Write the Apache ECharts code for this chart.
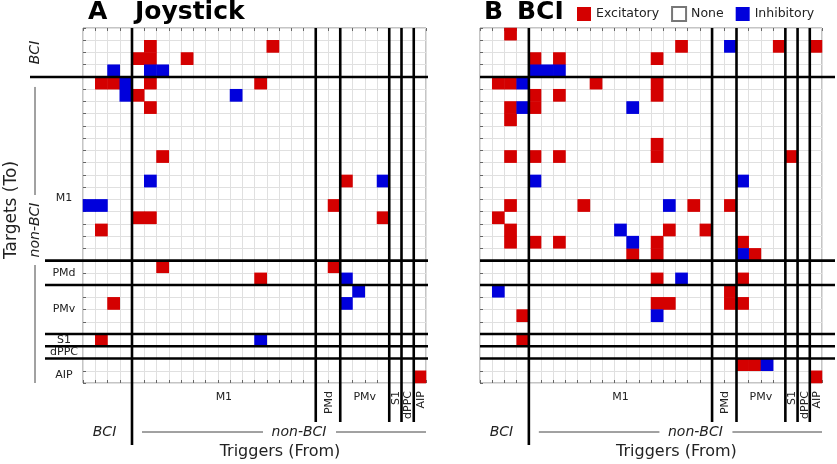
<!DOCTYPE html>
<html><head><meta charset="utf-8">
<script src="https://cdn.jsdelivr.net/npm/echarts@6/dist/echarts.min.js"></script>
<style>html,body{margin:0;padding:0;background:#fff}#c{width:837px;height:464px}</style>
</head><body><div id="c"></div>
<script>
// ---- data ----
const regionNames = ['BCI','M1','PMd','PMv','S1','dPPC','AIP'];
const triggerCounts = [4,15,2,4,1,1,1];
const targetCounts  = [4,15,2,4,1,1,2];
const legendNames = ['Excitatory','None','Inhibitory'];
const panelLetters = ['A','B'];
const panelTitles = ['Joystick','BCI'];
// [triggerColumn, targetRow]
const joystickExcitatory = [[5,1],[15,1],[4,2],[5,2],[8,2],[1,4],[2,4],[5,4],[14,4],[4,5],[5,6],[6,10],[21,12],[20,14],[4,15],[5,15],[24,15],[1,16],[6,19],[20,19],[14,20],[2,22],[1,25],[27,28]];
const joystickInhibitory = [[2,3],[5,3],[6,3],[3,4],[3,5],[12,5],[5,12],[24,12],[0,14],[1,14],[21,20],[22,21],[21,22],[14,25]];
const bciExcitatory = [[2,0],[16,1],[24,1],[27,1],[4,2],[6,2],[14,2],[1,4],[2,4],[9,4],[14,4],[4,5],[6,5],[14,5],[2,6],[4,6],[2,7],[14,9],[2,10],[4,10],[6,10],[14,10],[25,10],[2,14],[8,14],[17,14],[20,14],[1,15],[2,16],[15,16],[18,16],[2,17],[4,17],[6,17],[14,17],[21,17],[12,18],[14,18],[22,18],[14,20],[21,20],[20,21],[14,22],[15,22],[20,22],[21,22],[3,23],[3,25],[21,27],[22,27],[27,28]];
const bciInhibitory = [[20,1],[4,3],[5,3],[6,3],[3,4],[3,6],[12,6],[4,12],[21,12],[15,14],[11,16],[12,17],[21,18],[16,20],[1,21],[14,23],[23,27]];

// ---- build ----
const FONT = "'DejaVu Sans', Verdana, sans-serif";
const RED = '#d40000', BLUE = '#0000dc';
function cats(counts){ const out=[]; counts.forEach((n,i)=>{for(let k=0;k<n;k++) out.push(regionNames[i]+'_'+(k+1));}); return out; }
const triggerCats = cats(triggerCounts), targetCats = cats(targetCounts);
const nCols = triggerCats.length, nRows = targetCats.length;

const panels = [
  {left:83, top:28, width:343, height:355, exc:joystickExcitatory, inh:joystickInhibitory},
  {left:480, top:28, width:342, height:355, exc:bciExcitatory, inh:bciInhibitory}
];

const chart = echarts.init(document.getElementById('c'));
const grid=[], xAxis=[], yAxis=[], series=[];
panels.forEach((P,p)=>{
  grid.push({left:P.left, top:P.top, width:P.width, height:P.height, show:true, borderColor:'#8a8a8a', borderWidth:1, containLabel:false});
  const tick = {show:true, inside:true, interval:0, length:3, lineStyle:{color:'#666'}};
  xAxis.push({type:'category', gridIndex:p, data:triggerCats, position:'bottom', boundaryGap:true,
    axisLabel:{show:false}, axisTick:tick, axisLine:{show:false},
    splitLine:{show:true, interval:0, lineStyle:{color:'#e0e0e0', width:1}}});
  xAxis.push({type:'category', gridIndex:p, data:triggerCats, position:'top', boundaryGap:true,
    axisLabel:{show:false}, axisTick:tick, axisLine:{show:false}, splitLine:{show:false}});
  yAxis.push({type:'category', gridIndex:p, data:targetCats, inverse:true, boundaryGap:true,
    axisLabel:{show:false}, axisTick:tick, axisLine:{show:false},
    splitLine:{show:true, interval:0, lineStyle:{color:'#e0e0e0', width:1}}});
  series.push({type:'heatmap', name:'Excitatory', xAxisIndex:2*p, yAxisIndex:p,
    data:P.exc.map(([c,r])=>[c,r,1]), itemStyle:{color:RED}, emphasis:{disabled:true}, silent:true});
  series.push({type:'heatmap', name:'Inhibitory', xAxisIndex:2*p, yAxisIndex:p,
    data:P.inh.map(([c,r])=>[c,r,-1]), itemStyle:{color:BLUE}, emphasis:{disabled:true}, silent:true});
});
series.push({type:'heatmap', name:'None', xAxisIndex:0, yAxisIndex:0, data:[],
  itemStyle:{color:'#ffffff', borderColor:'#777', borderWidth:1}});

chart.setOption({
  animation:false,
  grid, xAxis, yAxis, series,
  legend:{data:legendNames, left:572, top:1, itemWidth:14, itemHeight:14, itemGap:12, icon:'rect',
    selectedMode:false, textStyle:{fontSize:12.5, fontFamily:FONT, color:'#222'}}
});

// ---- annotations computed from axes ----
const g = [];
function txt(text, x, y, opt){ opt=opt||{};
  g.push({type:'text', x, y, rotation:opt.rot||0, z:110, silent:true,
    style:{text, font:(opt.font||'11px')+' '+FONT, fill:opt.fill||'#222', align:opt.align||'center', verticalAlign:opt.va||'middle'}});
}
function line(x1,y1,x2,y2,w,c){ g.push({type:'line', z:100, silent:true, shape:{x1,y1,x2,y2}, style:{stroke:c||'#000', lineWidth:w}}); }

panels.forEach((P,p)=>{
  const xc = k=>chart.convertToPixel({xAxisIndex:2*p}, triggerCats[k]);
  const yc = k=>chart.convertToPixel({yAxisIndex:p}, targetCats[k]);
  const cw = xc(1)-xc(0), ch = yc(1)-yc(0);
  const colEdge = k=>xc(0)-cw/2+k*cw, rowEdge = k=>yc(0)-ch/2+k*ch;
  const L=colEdge(0), R=colEdge(nCols), T=rowEdge(0), B=rowEdge(nRows);
  // separators
  let cs=0;
  triggerCounts.slice(0,-1).forEach((n,i)=>{ cs+=n; const x=colEdge(cs); line(x,T,x,i===0?445:422,2.6); });
  let rs=0;
  targetCounts.slice(0,-1).forEach((n,i)=>{ rs+=n; const y=rowEdge(rs);
    const x1 = p===0 ? (i===0?30:45) : L; const x2 = p===0 ? R+2 : 835; line(x1,y,x2,y,2.6); });
  // x region labels
  cs=0;
  triggerCounts.forEach((n,i)=>{ const cx=(colEdge(cs)+colEdge(cs+n))/2; cs+=n;
    const name=regionNames[i]; if(name==='BCI') return;
    if(n>=4) txt(name, cx, 397, {font:'11px'});
    else txt(name, cx+1, 391, {font:'11px', rot:Math.PI/2, align:'right'});
  });
  // bottom labels
  const bciX = (colEdge(0)+colEdge(4))/2 - 4;
  txt('BCI', bciX+1, 432, {font:'italic 14px'});
  const nonBciCenter = (colEdge(4)+R)/2;
  const nbX = nonBciCenter + 20;
  txt('non-BCI', nbX, 432, {font:'italic 14px'});
  line(colEdge(4)+10, 432, nbX-36, 432, 1, '#444');
  line(nbX+37, 432, R, 432, 1, '#444');
  txt('Triggers (From)', nonBciCenter+1, 452, {font:'16px'});
  // titles
  txt(panelLetters[p], L+5+(p===0?0:-1), 12, {font:'bold 25px', align:'left', fill:'#000'});
  txt(panelTitles[p], p===0?135:517, 12, {font:'bold 25px', align:'left', fill:'#000'});
  if(p===0){
    // y region labels
    rs=0;
    targetCounts.forEach((n,i)=>{ let cy=(rowEdge(rs)+rowEdge(rs+n))/2; rs+=n;
      const name=regionNames[i]; if(name==='BCI') return;
      if(name==='M1') cy = rowEdge(13.9);
      if(name==='AIP') cy += 4;
      txt(name, 64, cy, {font:'11px'});
    });
    txt('Targets (To)', 12, 210, {font:'17px', rot:Math.PI/2});
    txt('BCI', 35, (rowEdge(0)+rowEdge(4))/2, {font:'italic 14px', rot:Math.PI/2});
    const ny = 230;
    txt('non-BCI', 35, ny, {font:'italic 14px', rot:Math.PI/2});
    line(35, rowEdge(4)+10, 35, ny-35, 1, '#444');
    line(35, ny+35, 35, B, 1, '#444');
  }
});
chart.setOption({graphic:{elements:g}});
</script></body></html>
